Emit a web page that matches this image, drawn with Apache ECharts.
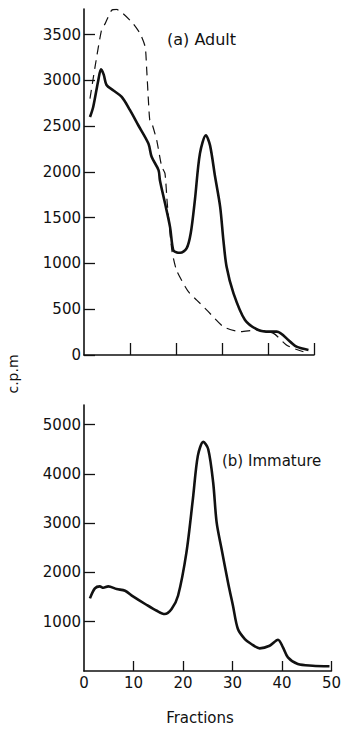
<!DOCTYPE html>
<html><head><meta charset="utf-8">
<script src="https://cdn.jsdelivr.net/npm/echarts@6/dist/echarts.min.js"></script>
<style>html,body{margin:0;padding:0;background:#fff}#c{width:344px;height:730px}</style>
</head><body><div id="c"></div>
<script>
// (a) Adult – solid curve
const adultSolidFractions = [1.3, 2.0, 3.1, 3.7, 4.3, 4.9, 6.4, 8.2, 10, 11.8, 14, 14.7, 16.2, 16.5, 17.6, 18.7, 19.4, 20.2, 20.9, 22.3, 23.2, 24.1, 25.2, 26.5, 27.4, 28.5, 29.6, 30.3, 31, 32.5, 35, 37.9, 40.4, 41.9, 44.8, 46.2, 48.8];
const adultSolidCpm = [2600, 2710, 3000, 3120, 3060, 2950, 2890, 2820, 2675, 2510, 2310, 2165, 2020, 1910, 1660, 1400, 1146, 1120, 1117, 1164, 1330, 1690, 2200, 2400, 2290, 1947, 1619, 1255, 964, 673, 382, 273, 255, 255, 146, 91, 55];
// (a) Adult – dashed curve
const adultDashFractions = [1.3, 2.4, 3.8, 4.6, 6.0, 7.1, 8.5, 10.7, 12.2, 13.3, 13.6, 14.0, 14.3, 14.7, 15.8, 16.9, 17.6, 18.1, 19.1, 20.1, 22, 23, 24.5, 26.7, 30.3, 33.9, 37.5, 41.2, 44, 45.5, 47.7];
const adultDashCpm = [2800, 3147, 3548, 3620, 3766, 3775, 3729, 3620, 3511, 3366, 3147, 2784, 2566, 2540, 2347, 2056, 1984, 1656, 1146, 928, 746, 673, 600, 491, 309, 255, 273, 236, 109, 73, 36];
// (b) Immature
const immFractions = [1.2, 2.2, 3.2, 3.9, 4.9, 6.6, 8.3, 9.9, 12.6, 14.7, 16.3, 17.7, 19, 20.7, 22, 23, 24.1, 25.1, 26.1, 26.8, 27.8, 29.1, 30.1, 31.1, 32.5, 33.8, 35.5, 37.5, 39.2, 40.2, 41.2, 43.2, 46.2, 49.6];
const immCpm = [1474, 1677, 1718, 1690, 1718, 1663, 1629, 1515, 1345, 1223, 1156, 1258, 1527, 2408, 3489, 4367, 4651, 4503, 3827, 3016, 2475, 1799, 1325, 852, 649, 548, 460, 513, 635, 481, 278, 142, 108, 95];

const adultYTicks = [0, 500, 1000, 1500, 2000, 2500, 3000, 3500];
const immYTicks = [1000, 2000, 3000, 4000, 5000];
const xTickLabels = [0, 10, 20, 30, 40, 50];
const xTicksInner = [10, 20, 30, 40, 50];

const zip = (a, b) => a.map((v, i) => [v, b[i]]);
const font = 'DejaVu Sans';
const lab = {fontFamily: font, fontSize: 15, color: '#111', margin: 3, formatter: v => String(v)};
const axLine = {show: true, lineStyle: {color: '#111', width: 1.6}};

const chart = echarts.init(document.getElementById('c'), null, {renderer: 'svg'});
chart.setOption({
  animation: false,
  backgroundColor: '#fff',
  grid: [
    {left: 84, top: 9, width: 230, height: 346},
    {left: 84, top: 405, width: 248, height: 266}
  ],
  xAxis: [
    {type: 'value', gridIndex: 0, min: 0, max: 50, interval: 10, axisLine: axLine,
     axisTick: {inside: true, length: 12, customValues: xTicksInner, lineStyle: {color: '#111', width: 1.3}},
     axisLabel: {show: false}, splitLine: {show: false}},
    {type: 'value', gridIndex: 1, min: 0, max: 50, interval: 10, axisLine: axLine,
     axisTick: {inside: true, length: 10, customValues: xTicksInner, lineStyle: {color: '#111', width: 1.3}},
     axisLabel: Object.assign({}, lab, {margin: 4, customValues: xTickLabels}), splitLine: {show: false}}
  ],
  yAxis: [
    {type: 'value', gridIndex: 0, min: 0, max: 3780, interval: 500, axisLine: axLine,
     axisTick: {inside: true, length: 11, customValues: adultYTicks, lineStyle: {color: '#111', width: 1.3}},
     axisLabel: Object.assign({}, lab, {customValues: adultYTicks}), splitLine: {show: false}},
    {type: 'value', gridIndex: 1, min: 0, max: 5400, interval: 1000, axisLine: axLine,
     axisTick: {inside: true, length: 11, customValues: immYTicks, lineStyle: {color: '#111', width: 1.3}},
     axisLabel: Object.assign({}, lab, {customValues: immYTicks}), splitLine: {show: false}}
  ],
  series: [
    {type: 'line', xAxisIndex: 0, yAxisIndex: 0, data: zip(adultDashFractions, adultDashCpm),
     showSymbol: false, smooth: 0.2, lineStyle: {color: '#111', width: 1.2, type: [9, 6]}},
    {type: 'line', xAxisIndex: 0, yAxisIndex: 0, data: zip(adultSolidFractions, adultSolidCpm),
     showSymbol: false, smooth: 0.3, lineStyle: {color: '#111', width: 2.6}},
    {type: 'line', xAxisIndex: 1, yAxisIndex: 1, data: zip(immFractions, immCpm),
     showSymbol: false, smooth: 0.3, lineStyle: {color: '#111', width: 2.6}}
  ],
  graphic: [
    {type: 'text', left: 167, top: 31, style: {text: '(a) Adult', font: '16px "DejaVu Sans"', fill: '#111'}},
    {type: 'text', left: 222, top: 453, style: {text: '(b) Immature', font: '15px "DejaVu Sans"', fill: '#111'}},
    {type: 'text', x: 200, y: 718, style: {text: 'Fractions', font: '15px "DejaVu Sans"', fill: '#111', align: 'center', verticalAlign: 'middle'}},
    {type: 'text', x: 13, y: 374, rotation: Math.PI / 2, style: {text: 'c.p.m', font: '14px "DejaVu Sans"', fill: '#111', align: 'center', verticalAlign: 'middle'}}
  ]
});
</script></body></html>
